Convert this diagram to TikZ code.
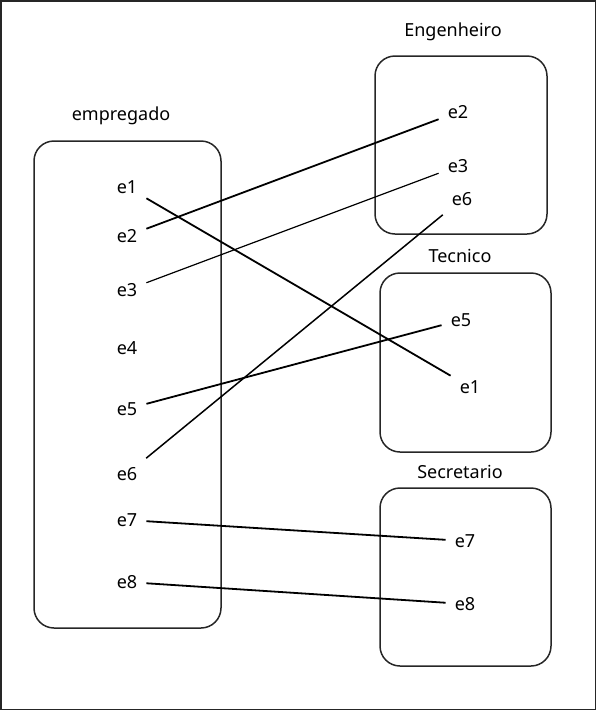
\documentclass[tikz,border=0pt]{standalone}
\usepackage{fontspec}
\setsansfont{Noto Sans}
\usepackage{xcolor}
\definecolor{inkgray}{gray}{0.15}
\usepackage{tikz}

\tikzset{
  setbox/.style={draw=inkgray, line width=1.5, rounded corners=20},
  elem/.style={inner sep=9, font=\sf\fontsize{18}{20}\selectfont},
  title/.style={font=\sf\fontsize{18}{20}\selectfont},
  link/.style={line width=1.8, draw=black}
}

\begin{document}
\begin{tikzpicture}[x=1pt, y=-1pt]
    \useasboundingbox (0,0) rectangle (596,710);
    \draw[line width=1.5, draw=inkgray] (0.75,0.75) rectangle (595.25,709.25);

    %  set of all employees
    \node[title] (empregado) at (121, 116) {empregado};
    \draw[setbox] (34,141) rectangle (221,628);
    \node[elem] (l1) at (127, 187) {e1};
    \node[elem] (l2) at (127, 236) {e2};
    \node[elem] (l3) at (127, 290) {e3};
    \node[elem] (l4) at (127, 348) {e4};
    \node[elem] (l5) at (127, 409) {e5};
    \node[elem] (l6) at (127, 474) {e6};
    \node[elem] (l7) at (127, 520) {e7};
    \node[elem] (l8) at (127, 582) {e8};

    %  subset Engenheiro
    \node[title] (engenheiro) at (453, 32) {Engenheiro};
    \draw[setbox] (375,56) rectangle (547,234);
    \node[elem] (eng2) at (458, 112) {e2};
    \node[elem] (eng3) at (458, 166) {e3};
    \node[elem] (eng6) at (462, 199) {e6};

    %  subset Tecnico
    \node[title] (tecnico) at (460, 256) {Tecnico};
    \draw[setbox] (380,273) rectangle (551,452);
    \node[elem] (tec5) at (461, 320) {e5};
    \node[elem] (tec1) at (470, 387) {e1};

    %  subset Secretario
    \node[title] (secretario) at (460, 472) {Secretario};
    \draw[setbox] (380,488) rectangle (551,666);
    \node[elem] (sec7) at (465, 541) {e7};
    \node[elem] (sec8) at (465, 604) {e8};

    %  mapping lines
    \draw[link] (l1) -- (tec1);
    \draw[link] (l2) -- (eng2);
    \draw[link, line width=1.2] (l3) -- (eng3);
    \draw[link] (l5) -- (tec5);
    \draw[link, line width=1.5] (l6) -- (eng6);
    \draw[link] (l7) -- (sec7);
    \draw[link] (l8) -- (sec8);
\end{tikzpicture}
\end{document}
